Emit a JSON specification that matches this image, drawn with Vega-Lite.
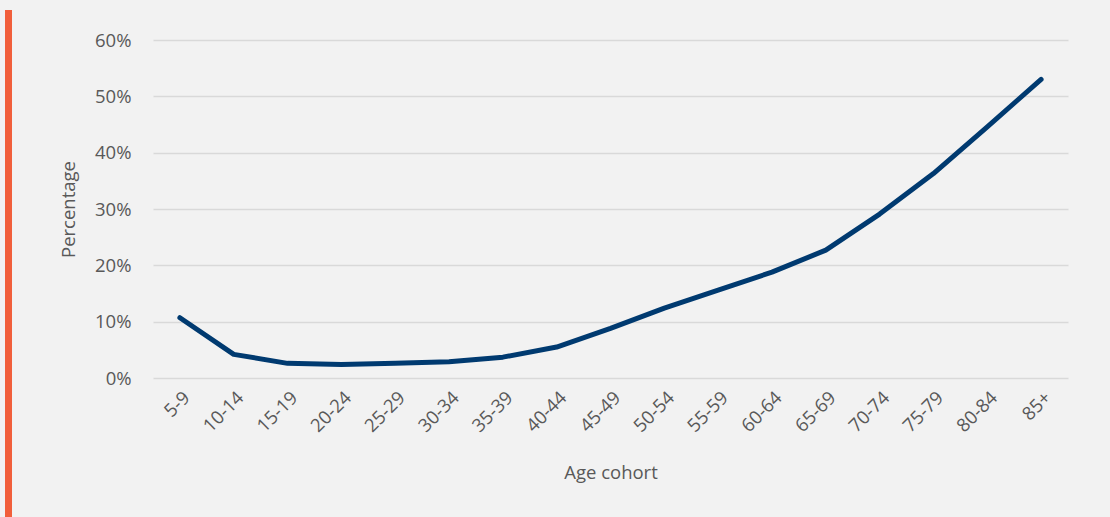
{
  "$schema": "https://vega.github.io/schema/vega-lite/v6.json",
  "background": "#f2f2f2",
  "padding": {"left": 5, "top": 10, "right": 42, "bottom": 0},
  "spacing": 47,
  "config": {"view": {"stroke": null}, "font": "Open Sans"},
  "hconcat": [
    {
      "width": 7,
      "height": 507,
      "view": {"fill": "#f15f3b", "stroke": null},
      "data": {"values": [{"a": 1}]},
      "mark": {"type": "text", "text": ""},
      "encoding": {}
    },
    {
      "width": 915,
      "height": 368,
      "data": {
        "values": [
          {"age": "5-9", "pct": 0.107},
          {"age": "10-14", "pct": 0.042},
          {"age": "15-19", "pct": 0.026},
          {"age": "20-24", "pct": 0.024},
          {"age": "25-29", "pct": 0.026},
          {"age": "30-34", "pct": 0.029},
          {"age": "35-39", "pct": 0.037},
          {"age": "40-44", "pct": 0.055},
          {"age": "45-49", "pct": 0.088},
          {"age": "50-54", "pct": 0.124},
          {"age": "55-59", "pct": 0.156},
          {"age": "60-64", "pct": 0.188},
          {"age": "65-69", "pct": 0.227},
          {"age": "70-74", "pct": 0.291},
          {"age": "75-79", "pct": 0.363},
          {"age": "80-84", "pct": 0.446},
          {"age": "85+", "pct": 0.530}
        ]
      },
      "mark": {"type": "line", "color": "#003a70", "strokeWidth": 5, "strokeCap": "round", "strokeJoin": "round"},
      "encoding": {
        "x": {
          "field": "age",
          "type": "ordinal",
          "sort": null,
          "scale": {"type": "point", "padding": 0.5},
          "axis": {
            "title": "Age cohort",
            "labelAngle": -45,
            "labelFontSize": 18.5,
            "labelColor": "#595959",
            "labelPadding": 10,
            "titleFontSize": 18.5,
            "titleFontWeight": "normal",
            "titleColor": "#595959",
            "titlePadding": 28,
            "domain": false,
            "ticks": false,
            "grid": false
          }
        },
        "y": {
          "field": "pct",
          "type": "quantitative",
          "scale": {"domain": [0, 0.6533], "nice": false, "zero": true},
          "axis": {
            "title": "Percentage",
            "values": [0, 0.1, 0.2, 0.3, 0.4, 0.5, 0.6],
            "format": ".0%",
            "labelFontSize": 18.5,
            "labelColor": "#595959",
            "labelPadding": 22,
            "titleFontSize": 18.5,
            "titleFontWeight": "normal",
            "titleColor": "#595959",
            "titlePadding": 16,
            "titleY": 199,
            "domain": false,
            "ticks": false,
            "grid": true,
            "gridColor": "#d9d9d9",
            "gridWidth": 1.5
          }
        }
      }
    }
  ]
}
